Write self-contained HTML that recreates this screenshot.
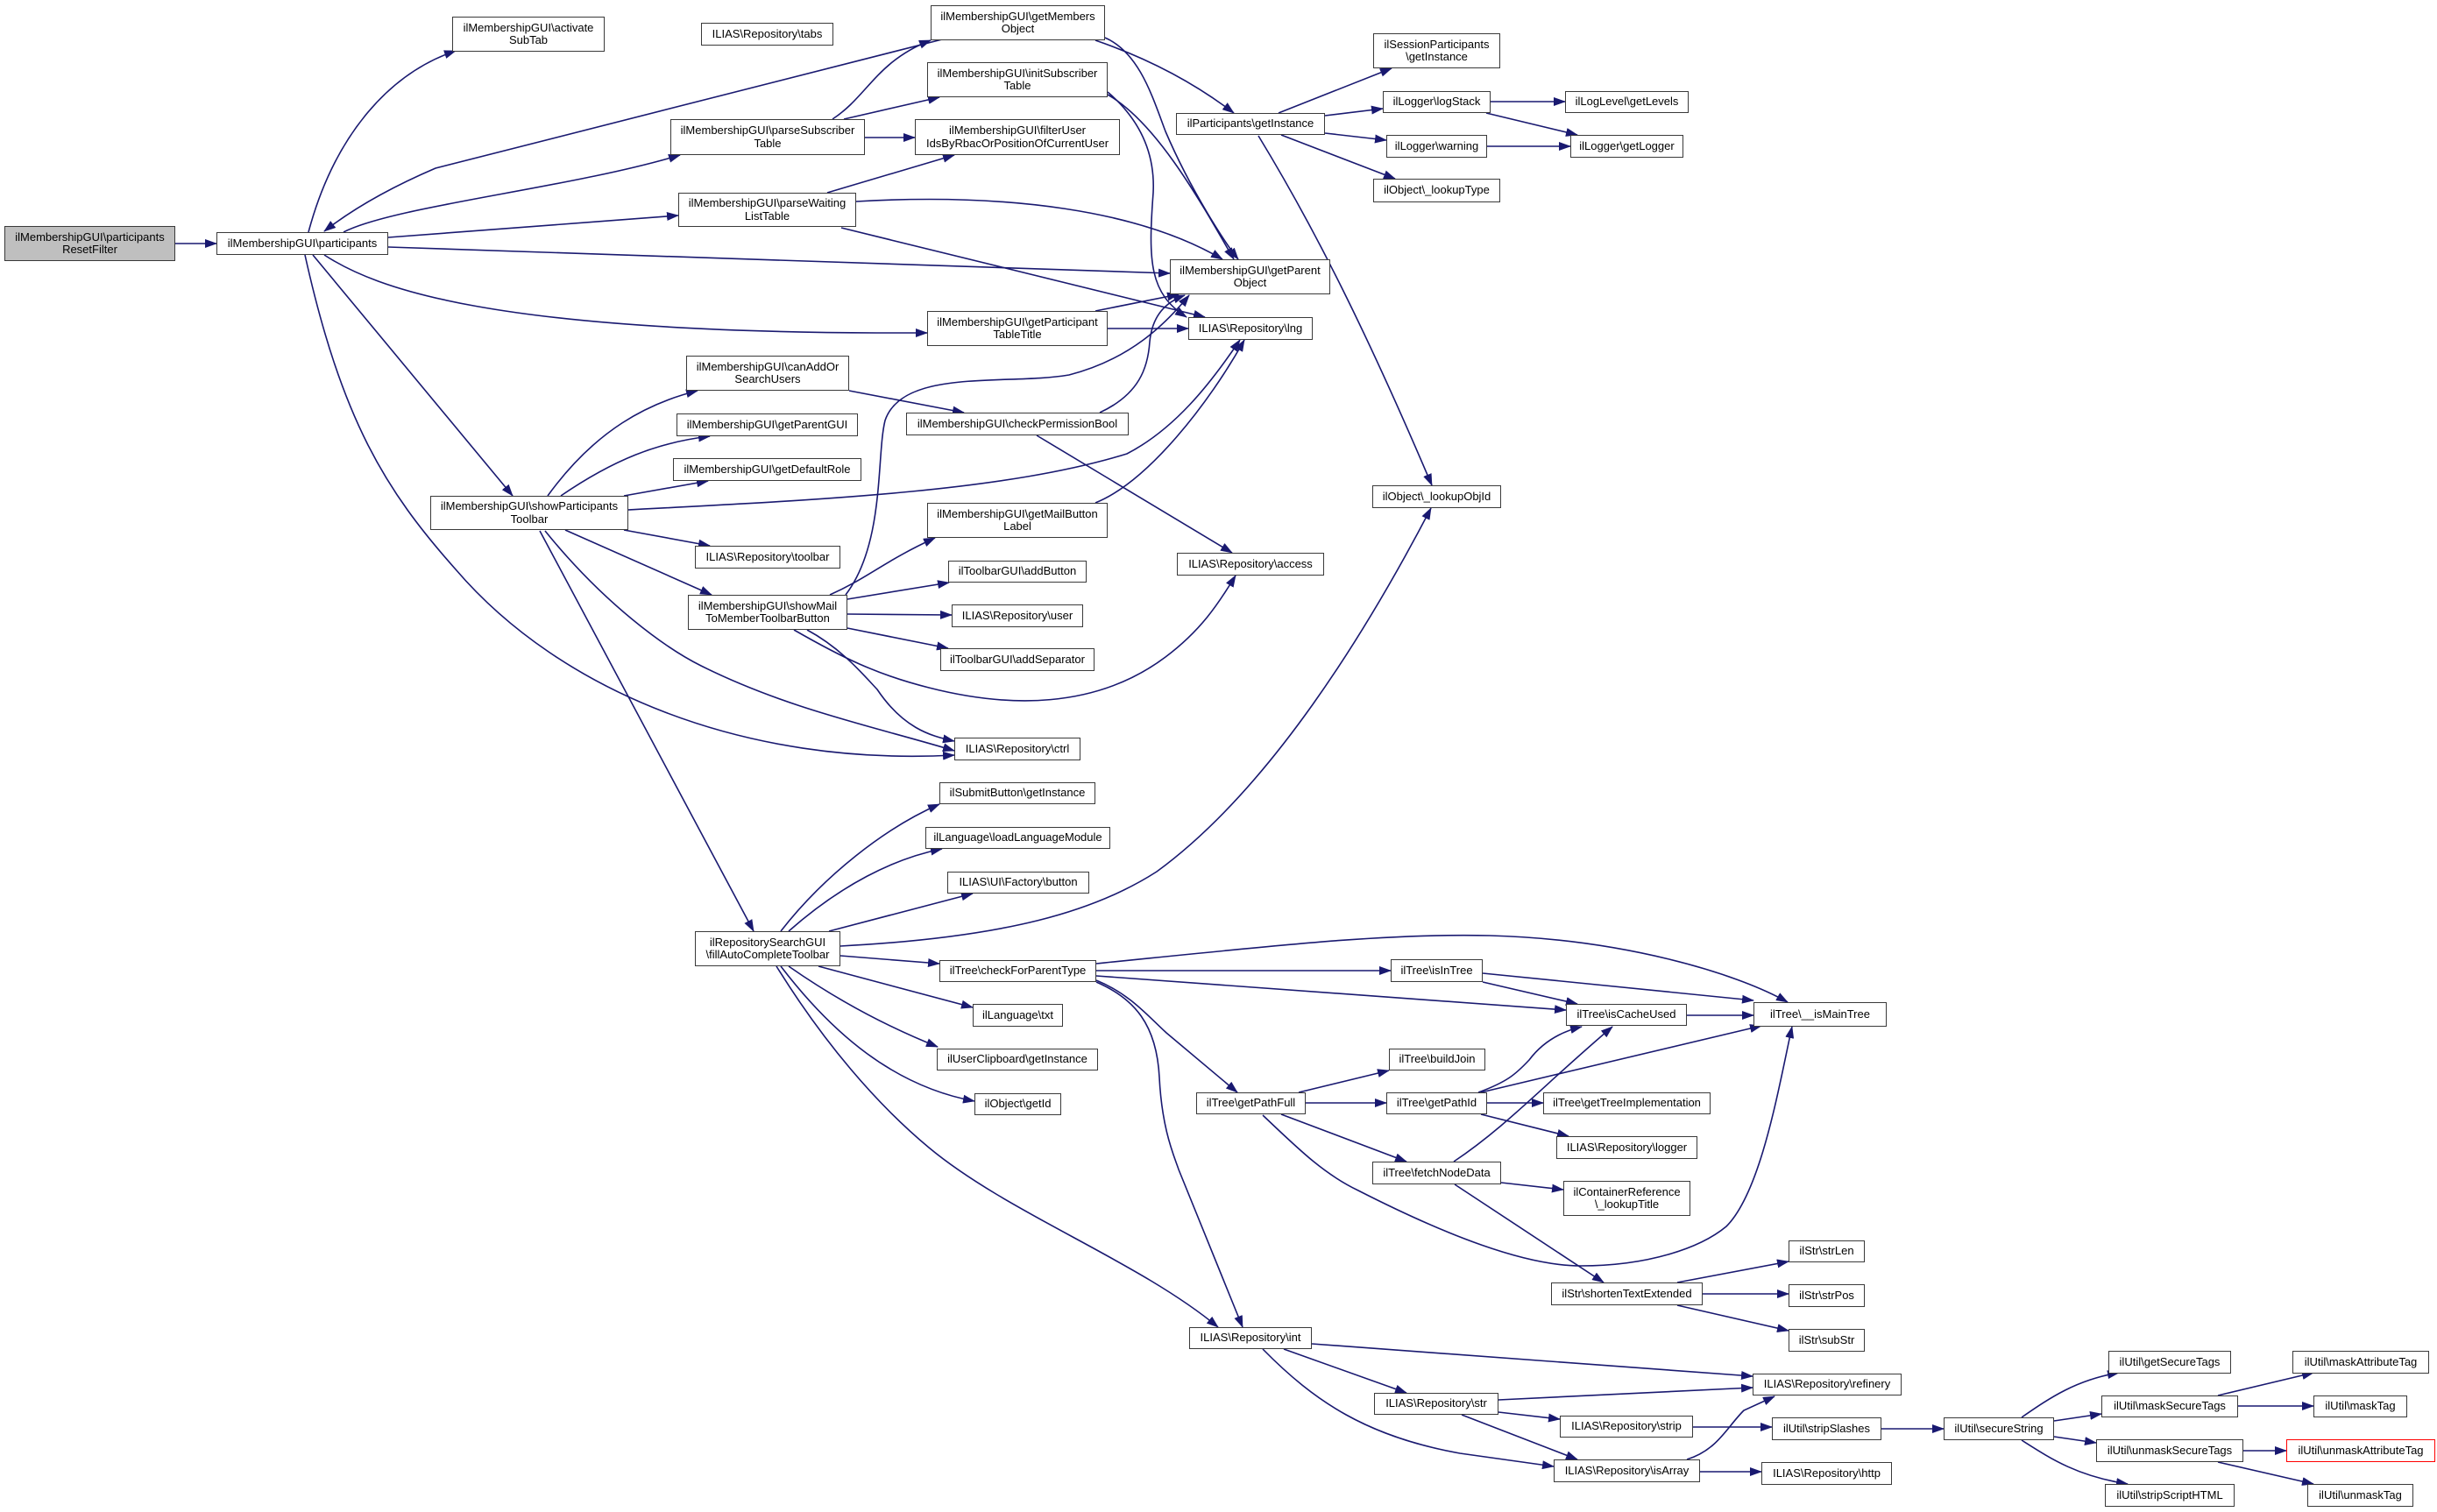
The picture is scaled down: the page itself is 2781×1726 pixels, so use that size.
<!DOCTYPE html>
<html><head><meta charset="utf-8"><style>
html,body{margin:0;padding:0;background:#fff;}
body{width:2781px;height:1726px;position:relative;overflow:hidden;font-family:"Liberation Sans",Arial,sans-serif;}
svg{position:absolute;left:0;top:0;}
.n{position:absolute;box-sizing:border-box;border:1.5px solid #3a3a3a;background:#fff;display:flex;align-items:center;justify-content:center;text-align:center;font-size:13px;line-height:14.5px;color:#000;white-space:nowrap;}
</style></head><body>
<svg width="2781" height="1726" viewBox="0 0 2781 1726">
<defs><marker id="a" markerUnits="userSpaceOnUse" markerWidth="14" markerHeight="10" refX="13" refY="5" orient="auto"><path d="M0,0 L14,5 L0,10 z" fill="#191970"/></marker></defs>
<g fill="none" stroke="#191970" stroke-width="1.6" marker-end="url(#a)">
<path d="M200,278 L247,278"/>
<path d="M352,265 C380,160 440,85 520,58"/>
<path d="M1075,45 L497,192 Q420,225 370,264"/>
<path d="M392,265 C450,235 650,215 776,177"/>
<path d="M443,271 L774,246"/>
<path d="M443,282 C700,292 1000,302 1335,312"/>
<path d="M370,291 C430,330 560,378 1000,380 L1058,380"/>
<path d="M357,291 L585,566"/>
<path d="M348,291 C390,480 440,560 520,650 C640,790 850,875 1089,862"/>
<path d="M950,136 C990,110 1000,70 1062,46"/>
<path d="M963,136 L1072,111"/>
<path d="M987,157 L1044,157"/>
<path d="M944,220 L1089,177"/>
<path d="M977,230 C1150,220 1300,240 1395,296"/>
<path d="M960,260 L1375,362"/>
<path d="M1261,43 C1300,60 1315,110 1330,150 C1360,220 1400,280 1413,296"/>
<path d="M1250,46 C1320,70 1370,100 1408,129"/>
<path d="M1264,108 C1320,140 1370,230 1408,296"/>
<path d="M1264,105 C1305,140 1318,180 1316,220 C1310,300 1312,335 1354,362"/>
<path d="M1250,355 L1345,336"/>
<path d="M1264,375 L1356,375"/>
<path d="M1255,471 C1300,450 1310,420 1312,390 C1315,360 1330,345 1352,337"/>
<path d="M965,679 C1010,620 1000,520 1010,480 C1030,420 1150,440 1220,428 C1290,410 1330,370 1357,337"/>
<path d="M1183,497 L1406,631"/>
<path d="M1250,574 C1310,550 1380,460 1420,388"/>
<path d="M717,582 C950,570 1150,560 1286,518 C1340,490 1380,440 1415,388"/>
<path d="M1459,129 L1588,78"/>
<path d="M1512,132 L1578,124"/>
<path d="M1512,152 L1582,160"/>
<path d="M1462,154 L1592,204"/>
<path d="M1436,155 C1500,260 1560,380 1634,554"/>
<path d="M1701,116 L1786,116"/>
<path d="M1696,129 L1800,154"/>
<path d="M1697,167 L1792,167"/>
<path d="M625,566 C680,490 740,460 796,446"/>
<path d="M640,566 C700,525 750,505 810,498"/>
<path d="M712,566 L808,549"/>
<path d="M969,446 L1100,471"/>
<path d="M712,605 L810,623"/>
<path d="M645,605 L812,679"/>
<path d="M622,606 C690,690 760,740 800,760 C900,810 1000,830 1089,857"/>
<path d="M616,606 L860,1063"/>
<path d="M947,679 C990,660 1010,640 1067,614"/>
<path d="M967,684 L1083,665"/>
<path d="M967,701 L1086,702"/>
<path d="M967,717 L1082,740"/>
<path d="M921,719 C960,740 985,770 1001,787 C1030,830 1060,840 1089,846"/>
<path d="M906,719 C960,750 1000,770 1060,785 C1150,808 1250,810 1330,750 C1370,720 1390,690 1410,657"/>
<path d="M891,1063 C940,1000 1010,945 1072,918"/>
<path d="M900,1063 C960,1010 1020,980 1075,969"/>
<path d="M946,1063 L1110,1020"/>
<path d="M959,1080 C1150,1070 1250,1040 1320,995 C1450,900 1560,720 1633,580"/>
<path d="M959,1091 L1072,1100"/>
<path d="M934,1103 L1110,1150"/>
<path d="M900,1103 C960,1145 1020,1175 1070,1195"/>
<path d="M891,1103 C950,1180 1020,1240 1112,1257"/>
<path d="M886,1103 C940,1190 1000,1260 1060,1310 C1150,1385 1300,1440 1390,1515"/>
<path d="M1251,1108 L1587,1108"/>
<path d="M1251,1100 C1450,1080 1580,1065 1700,1068 C1850,1072 1980,1110 2040,1144"/>
<path d="M1251,1114 L1787,1153"/>
<path d="M1251,1119 C1290,1135 1310,1160 1331,1179 L1412,1247"/>
<path d="M1251,1121 C1295,1140 1320,1170 1323,1230 C1326,1290 1340,1320 1345,1335 L1418,1515"/>
<path d="M1692,1111 L2001,1142"/>
<path d="M1692,1121 L1800,1146"/>
<path d="M1925,1159 L2001,1159"/>
<path d="M1482,1247 L1585,1222"/>
<path d="M1490,1259 L1582,1259"/>
<path d="M1462,1272 L1605,1326"/>
<path d="M1441,1273 C1480,1310 1510,1340 1550,1359 C1650,1410 1740,1445 1804,1445 C1880,1445 1940,1425 1970,1400 C2010,1360 2030,1240 2045,1172"/>
<path d="M1687,1247 C1720,1235 1730,1226 1745,1210 C1760,1190 1780,1178 1805,1172"/>
<path d="M1690,1247 L2010,1171"/>
<path d="M1697,1259 L1761,1259"/>
<path d="M1690,1272 L1790,1297"/>
<path d="M1659,1326 C1720,1285 1760,1240 1840,1172"/>
<path d="M1713,1350 L1784,1358"/>
<path d="M1660,1352 L1830,1464"/>
<path d="M1914,1464 L2041,1440"/>
<path d="M1943,1477 L2041,1477"/>
<path d="M1914,1490 L2041,1519"/>
<path d="M1497,1534 L2000,1571"/>
<path d="M1465,1540 L1605,1590"/>
<path d="M1441,1540 C1500,1600 1560,1640 1666,1659 L1773,1674"/>
<path d="M1710,1598 L2000,1584"/>
<path d="M1710,1612 L1780,1620"/>
<path d="M1668,1615 L1800,1666"/>
<path d="M1932,1629 L2022,1629"/>
<path d="M1925,1666 C1960,1655 1970,1630 1990,1610 L2025,1594"/>
<path d="M1940,1680 L2010,1680"/>
<path d="M2147,1631 L2218,1631"/>
<path d="M2307,1618 C2340,1595 2370,1575 2418,1567"/>
<path d="M2344,1622 L2398,1614"/>
<path d="M2344,1640 L2392,1647"/>
<path d="M2307,1644 C2340,1665 2370,1685 2428,1694"/>
<path d="M2531,1593 L2640,1567"/>
<path d="M2554,1605 L2640,1605"/>
<path d="M2560,1656 L2609,1656"/>
<path d="M2531,1669 L2640,1694"/>
</g></svg>

<div class="n" style="left:5px;top:258px;width:195px;height:40px;background:#bfbfbf;">ilMembershipGUI\participants<br>ResetFilter</div>
<div class="n" style="left:247px;top:265px;width:196px;height:26px;">ilMembershipGUI\participants</div>
<div class="n" style="left:516px;top:19px;width:174px;height:40px;">ilMembershipGUI\activate<br>SubTab</div>
<div class="n" style="left:800px;top:26px;width:151px;height:26px;">ILIAS\Repository\tabs</div>
<div class="n" style="left:1062px;top:6px;width:199px;height:40px;">ilMembershipGUI\getMembers<br>Object</div>
<div class="n" style="left:1058px;top:71px;width:206px;height:40px;">ilMembershipGUI\initSubscriber<br>Table</div>
<div class="n" style="left:1044px;top:136px;width:234px;height:41px;">ilMembershipGUI\filterUser<br>IdsByRbacOrPositionOfCurrentUser</div>
<div class="n" style="left:765px;top:136px;width:222px;height:41px;">ilMembershipGUI\parseSubscriber<br>Table</div>
<div class="n" style="left:774px;top:220px;width:203px;height:39px;">ilMembershipGUI\parseWaiting<br>ListTable</div>
<div class="n" style="left:1335px;top:296px;width:183px;height:40px;">ilMembershipGUI\getParent<br>Object</div>
<div class="n" style="left:1356px;top:362px;width:142px;height:26px;">ILIAS\Repository\lng</div>
<div class="n" style="left:1058px;top:355px;width:206px;height:40px;">ilMembershipGUI\getParticipant<br>TableTitle</div>
<div class="n" style="left:1034px;top:471px;width:254px;height:26px;">ilMembershipGUI\checkPermissionBool</div>
<div class="n" style="left:1058px;top:574px;width:206px;height:40px;">ilMembershipGUI\getMailButton<br>Label</div>
<div class="n" style="left:1082px;top:640px;width:158px;height:25px;">ilToolbarGUI\addButton</div>
<div class="n" style="left:1343px;top:631px;width:168px;height:26px;">ILIAS\Repository\access</div>
<div class="n" style="left:1342px;top:129px;width:170px;height:25px;">ilParticipants\getInstance</div>
<div class="n" style="left:1567px;top:38px;width:145px;height:40px;">ilSessionParticipants<br>\getInstance</div>
<div class="n" style="left:1578px;top:104px;width:123px;height:25px;">ilLogger\logStack</div>
<div class="n" style="left:1582px;top:154px;width:115px;height:26px;">ilLogger\warning</div>
<div class="n" style="left:1567px;top:204px;width:145px;height:27px;">ilObject\_lookupType</div>
<div class="n" style="left:1566px;top:554px;width:147px;height:26px;">ilObject\_lookupObjId</div>
<div class="n" style="left:1786px;top:104px;width:141px;height:25px;">ilLogLevel\getLevels</div>
<div class="n" style="left:1792px;top:154px;width:129px;height:26px;">ilLogger\getLogger</div>
<div class="n" style="left:783px;top:406px;width:186px;height:40px;">ilMembershipGUI\canAddOr<br>SearchUsers</div>
<div class="n" style="left:772px;top:472px;width:207px;height:26px;">ilMembershipGUI\getParentGUI</div>
<div class="n" style="left:768px;top:523px;width:215px;height:26px;">ilMembershipGUI\getDefaultRole</div>
<div class="n" style="left:491px;top:566px;width:226px;height:39px;">ilMembershipGUI\showParticipants<br>Toolbar</div>
<div class="n" style="left:793px;top:623px;width:166px;height:26px;">ILIAS\Repository\toolbar</div>
<div class="n" style="left:785px;top:679px;width:182px;height:40px;">ilMembershipGUI\showMail<br>ToMemberToolbarButton</div>
<div class="n" style="left:1086px;top:690px;width:150px;height:26px;">ILIAS\Repository\user</div>
<div class="n" style="left:1073px;top:740px;width:176px;height:26px;">ilToolbarGUI\addSeparator</div>
<div class="n" style="left:1089px;top:842px;width:144px;height:26px;">ILIAS\Repository\ctrl</div>
<div class="n" style="left:1072px;top:893px;width:178px;height:25px;">ilSubmitButton\getInstance</div>
<div class="n" style="left:1056px;top:944px;width:211px;height:25px;">ilLanguage\loadLanguageModule</div>
<div class="n" style="left:1081px;top:995px;width:162px;height:25px;">ILIAS\UI\Factory\button</div>
<div class="n" style="left:793px;top:1063px;width:166px;height:40px;">ilRepositorySearchGUI<br>\fillAutoCompleteToolbar</div>
<div class="n" style="left:1072px;top:1096px;width:179px;height:25px;">ilTree\checkForParentType</div>
<div class="n" style="left:1110px;top:1146px;width:103px;height:26px;">ilLanguage\txt</div>
<div class="n" style="left:1069px;top:1197px;width:184px;height:25px;">ilUserClipboard\getInstance</div>
<div class="n" style="left:1112px;top:1248px;width:99px;height:25px;">ilObject\getId</div>
<div class="n" style="left:1587px;top:1095px;width:105px;height:26px;">ilTree\isInTree</div>
<div class="n" style="left:1787px;top:1146px;width:138px;height:25px;">ilTree\isCacheUsed</div>
<div class="n" style="left:2001px;top:1144px;width:152px;height:28px;">ilTree\__isMainTree</div>
<div class="n" style="left:1585px;top:1197px;width:110px;height:25px;">ilTree\buildJoin</div>
<div class="n" style="left:1365px;top:1247px;width:125px;height:25px;">ilTree\getPathFull</div>
<div class="n" style="left:1582px;top:1247px;width:115px;height:25px;">ilTree\getPathId</div>
<div class="n" style="left:1761px;top:1247px;width:191px;height:25px;">ilTree\getTreeImplementation</div>
<div class="n" style="left:1776px;top:1297px;width:161px;height:26px;">ILIAS\Repository\logger</div>
<div class="n" style="left:1566px;top:1326px;width:147px;height:26px;">ilTree\fetchNodeData</div>
<div class="n" style="left:1784px;top:1348px;width:145px;height:40px;">ilContainerReference<br>\_lookupTitle</div>
<div class="n" style="left:2041px;top:1416px;width:87px;height:25px;">ilStr\strLen</div>
<div class="n" style="left:1770px;top:1464px;width:173px;height:26px;">ilStr\shortenTextExtended</div>
<div class="n" style="left:2041px;top:1466px;width:87px;height:26px;">ilStr\strPos</div>
<div class="n" style="left:2041px;top:1517px;width:87px;height:26px;">ilStr\subStr</div>
<div class="n" style="left:1357px;top:1515px;width:140px;height:25px;">ILIAS\Repository\int</div>
<div class="n" style="left:2000px;top:1568px;width:170px;height:25px;">ILIAS\Repository\refinery</div>
<div class="n" style="left:1568px;top:1590px;width:142px;height:25px;">ILIAS\Repository\str</div>
<div class="n" style="left:1780px;top:1616px;width:152px;height:25px;">ILIAS\Repository\strip</div>
<div class="n" style="left:2022px;top:1618px;width:125px;height:26px;">ilUtil\stripSlashes</div>
<div class="n" style="left:1773px;top:1666px;width:167px;height:26px;">ILIAS\Repository\isArray</div>
<div class="n" style="left:2010px;top:1669px;width:149px;height:26px;">ILIAS\Repository\http</div>
<div class="n" style="left:2218px;top:1618px;width:126px;height:26px;">ilUtil\secureString</div>
<div class="n" style="left:2406px;top:1542px;width:140px;height:26px;">ilUtil\getSecureTags</div>
<div class="n" style="left:2398px;top:1593px;width:156px;height:25px;">ilUtil\maskSecureTags</div>
<div class="n" style="left:2392px;top:1643px;width:168px;height:26px;">ilUtil\unmaskSecureTags</div>
<div class="n" style="left:2402px;top:1694px;width:148px;height:26px;">ilUtil\stripScriptHTML</div>
<div class="n" style="left:2616px;top:1542px;width:156px;height:26px;">ilUtil\maskAttributeTag</div>
<div class="n" style="left:2640px;top:1593px;width:107px;height:25px;">ilUtil\maskTag</div>
<div class="n" style="left:2609px;top:1643px;width:170px;height:26px;border-color:#ff0000;">ilUtil\unmaskAttributeTag</div>
<div class="n" style="left:2633px;top:1694px;width:121px;height:26px;">ilUtil\unmaskTag</div>
</body></html>
